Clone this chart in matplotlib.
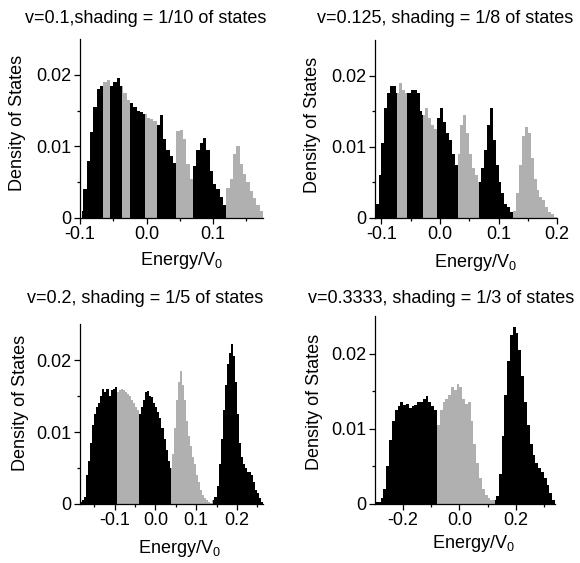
import matplotlib
matplotlib.use('Agg')
import matplotlib.pyplot as plt
import numpy as np

plt.rcParams['font.family'] = ['Liberation Sans', 'DejaVu Sans']
plt.rcParams['mathtext.fontset'] = 'custom'
plt.rcParams['mathtext.rm'] = 'Liberation Sans'
plt.rcParams['mathtext.it'] = 'Liberation Sans'

BLACK = '#000000'
GRAY = '#b0b0b0'

# Panel 1: v=0.1, bins of 0.005 starting at -0.1
p1_start, p1_width = -0.1, 0.005
p1_dos = [0.001, 0.004, 0.008, 0.012, 0.0155, 0.018, 0.0185, 0.019, 0.0193,
          0.0185, 0.019, 0.0195, 0.0185, 0.0175, 0.0165, 0.016, 0.0155, 0.015,
          0.0148, 0.0145, 0.014, 0.0138, 0.0135, 0.013, 0.0144, 0.011, 0.0095,
          0.0086, 0.0077, 0.0121, 0.0123, 0.011, 0.0075, 0.0055, 0.0072, 0.0095,
          0.0105, 0.0112, 0.0095, 0.0065, 0.0048, 0.004, 0.003, 0.0018, 0.0042,
          0.0055, 0.009, 0.010, 0.0075, 0.0062, 0.005, 0.0038, 0.0028, 0.0018,
          0.001]
p1_bounds = [-0.0975, -0.065, -0.055, -0.0375, -0.025, -0.0025, 0.015, 0.045,
             0.07, 0.12, 0.175]

# Panel 2: v=0.125
p2_start, p2_width = -0.11, 0.005
p2_dos = [0.002, 0.006, 0.0105, 0.0155, 0.0175, 0.0185, 0.0185, 0.0175, 0.019,
          0.018, 0.0175, 0.0175, 0.018, 0.018, 0.0175, 0.015, 0.0145, 0.0155,
          0.014, 0.013, 0.0125, 0.014, 0.0155, 0.0135, 0.012, 0.011, 0.009,
          0.0075, 0.009, 0.013, 0.0145, 0.012, 0.009, 0.007, 0.006, 0.005,
          0.007, 0.0095, 0.013, 0.0155, 0.011, 0.0075, 0.005, 0.0035, 0.002,
          0.0015, 0.0008, 0.001, 0.0035, 0.0075, 0.0115, 0.0128, 0.012, 0.0085,
          0.0055, 0.004, 0.003, 0.0025, 0.0015, 0.0008, 0.0005, 0.0002]
p2_bounds = [-0.11, -0.073, -0.057, -0.0286, -0.0057, 0.031, 0.066, 0.125, 0.2]

# Panel 3: v=0.2
p3_start, p3_width = -0.185, 0.005
p3_dos = [0.0003, 0.0005, 0.001, 0.004, 0.006, 0.0085, 0.011, 0.0125, 0.0135,
          0.014, 0.015, 0.016, 0.0155, 0.016, 0.015, 0.0158, 0.016, 0.0163,
          0.0155, 0.0158, 0.016, 0.0158, 0.0155, 0.0153, 0.015, 0.0145, 0.014,
          0.0135, 0.013, 0.0125, 0.0135, 0.0145, 0.0155, 0.0157, 0.015, 0.0148,
          0.014, 0.0135, 0.0128, 0.012, 0.0105, 0.009, 0.0075, 0.006, 0.005,
          0.007, 0.0105, 0.0145, 0.017, 0.0185, 0.0165, 0.0145, 0.0115, 0.0095,
          0.008, 0.0065, 0.0055, 0.004, 0.003, 0.002, 0.0012, 0.0008, 0.0005,
          0.0003, 0.0002, 0.0005, 0.001, 0.0025, 0.0055, 0.009, 0.013, 0.0165,
          0.0195, 0.021, 0.0222, 0.0205, 0.017, 0.0125, 0.0085, 0.0065, 0.0055,
          0.005, 0.0045, 0.0045, 0.004, 0.003, 0.002, 0.0015, 0.0008, 0.0003]
p3_bounds = [-0.183, -0.094, -0.040, 0.039, 0.141, 0.264]

# Panel 4: v=0.3333, bins of 0.01 starting at -0.3
p4_start, p4_width = -0.3, 0.01
p4_dos = [0.0002, 0.0003, 0.0008, 0.002, 0.005, 0.0085, 0.011, 0.0125, 0.013,
          0.0135, 0.0132, 0.0133, 0.0128, 0.013, 0.0132, 0.0135, 0.0135, 0.014,
          0.0143, 0.0135, 0.013, 0.0125, 0.0105, 0.0125, 0.0135, 0.014, 0.0145,
          0.0155, 0.0152, 0.016, 0.0155, 0.014, 0.0133, 0.0135, 0.011, 0.008,
          0.0055, 0.0035, 0.002, 0.0012, 0.0008, 0.0005, 0.0005, 0.001, 0.004,
          0.009, 0.0145, 0.019, 0.0225, 0.0235, 0.0228, 0.0205, 0.017, 0.0135,
          0.0105, 0.008, 0.0065, 0.0055, 0.0048, 0.0042, 0.0035, 0.0025, 0.0015,
          0.0005]
p4_bounds = [-0.3, -0.08, 0.1266, 0.34]

panels = [
    dict(start=p1_start, width=p1_width, dos=p1_dos, bounds=p1_bounds,
         title='v=0.1,shading = 1/10 of states', xlim=(-0.1, 0.175),
         major=[-0.1, 0.0, 0.1], minor=[-0.05, 0.05, 0.15],
         rect=[0.1379, 0.6128, 0.3155, 0.318],
         tpos=(0.252, 0.959), xl=(0.312, 0.529), yl=(0.031, 0.7815)),
    dict(start=p2_start, width=p2_width, dos=p2_dos, bounds=p2_bounds,
         title='v=0.125, shading = 1/8 of states', xlim=(-0.111, 0.2),
         major=[-0.1, 0.0, 0.1, 0.2], minor=[-0.05, 0.05, 0.15],
         rect=[0.6466, 0.6128, 0.3138, 0.316],
         tpos=(0.767, 0.959), xl=(0.819, 0.526), yl=(0.538, 0.778)),
    dict(start=p3_start, width=p3_width, dos=p3_dos, bounds=p3_bounds,
         title='v=0.2, shading = 1/5 of states', xlim=(-0.185, 0.264),
         major=[-0.1, 0.0, 0.1, 0.2], minor=[-0.15, -0.05, 0.05, 0.15, 0.25],
         rect=[0.1379, 0.1048, 0.3155, 0.3197],
         tpos=(0.25, 0.462), xl=(0.3086, 0.0183), yl=(0.0345, 0.284)),
    dict(start=p4_start, width=p4_width, dos=p4_dos, bounds=p4_bounds,
         title='v=0.3333, shading = 1/3 of states', xlim=(-0.3, 0.34),
         major=[-0.2, 0.0, 0.2], minor=[-0.1, 0.1, 0.3],
         rect=[0.6466, 0.1048, 0.3103, 0.334],
         tpos=(0.760, 0.462), xl=(0.8155, 0.0266), yl=(0.543, 0.286)),
]

fig = plt.figure(figsize=(5.8, 5.63), dpi=100)

for p in panels:
    ax = fig.add_axes(p['rect'])
    dos = np.array(p['dos'])
    edges = p['start'] + p['width'] * np.arange(len(dos) + 1)
    b = p['bounds']
    # shade alternating slices of the histogram black / gray
    for i in range(len(b) - 1):
        a, c = b[i], b[i + 1]
        inner = edges[(edges > a) & (edges < c)]
        e = np.concatenate([[a], inner, [c]])
        mids = (e[:-1] + e[1:]) / 2
        idx = np.clip(np.searchsorted(edges, mids) - 1, 0, len(dos) - 1)
        ax.stairs(dos[idx], e, fill=True, color=BLACK if i % 2 == 0 else GRAY,
                  linewidth=0)

    ax.set_xlim(*p['xlim'])
    ax.set_ylim(0, 0.025)
    ax.spines['top'].set_visible(False)
    ax.spines['right'].set_visible(False)
    for s in ['left', 'bottom']:
        ax.spines[s].set_linewidth(0.9)
    ax.set_xticks(p['major'])
    ax.set_xticklabels(['%.1f' % v for v in p['major']])
    ax.set_xticks(p['minor'], minor=True)
    ax.set_yticks([0, 0.01, 0.02])
    ax.set_yticklabels(['0', '0.01', '0.02'])
    ax.set_yticks([0.005, 0.015], minor=True)
    ax.tick_params(which='major', direction='out', length=4, width=0.9,
                   labelsize=13, pad=2)
    ax.tick_params(which='minor', direction='out', length=2.5, width=0.9)
    ax.patch.set_alpha(0)

    fig.text(p['tpos'][0], p['tpos'][1], p['title'], ha='center',
             va='baseline', fontsize=13)
    fig.text(p['xl'][0], p['xl'][1], 'Energy/V$_0$', ha='center',
             va='baseline', fontsize=13)
    fig.text(p['yl'][0], p['yl'][1], 'Density of States', ha='center',
             va='center', rotation=90, fontsize=13)

plt.savefig('out.png', dpi=100)
plt.close()
